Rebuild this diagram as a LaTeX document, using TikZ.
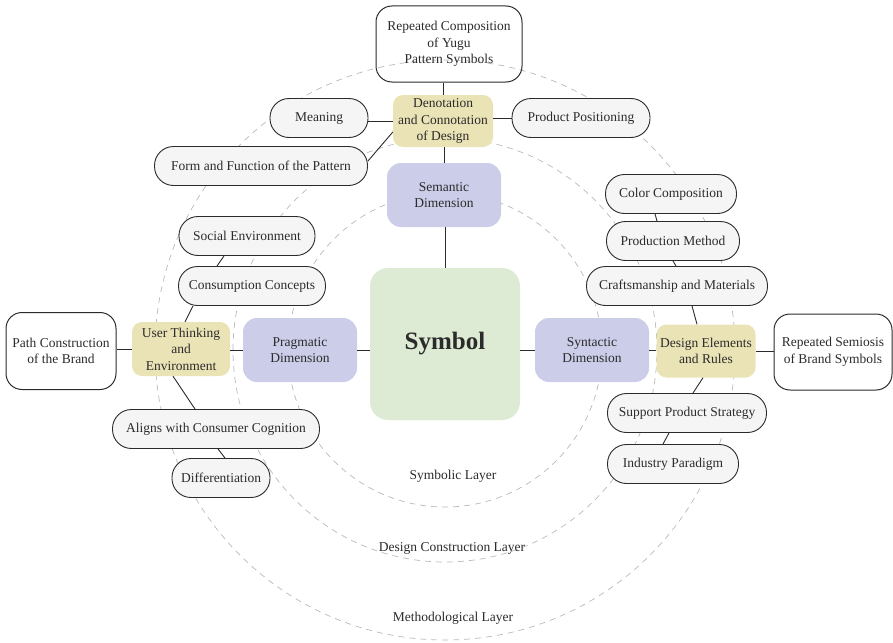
\documentclass[tikz,border=0pt]{standalone}
\usepackage{fontspec}
\setmainfont{Liberation Serif}
\definecolor{leaf}{HTML}{DDEBD4}
\definecolor{lav}{HTML}{CBCDE9}
\definecolor{sand}{HTML}{EAE3B6}
\definecolor{pillfill}{HTML}{F5F5F5}
\definecolor{ink}{HTML}{2B2B2B}
\begin{document}
\begin{tikzpicture}[x=1pt,y=-1pt,
  font=\fontsize{13.5}{16.5}\selectfont, text=ink,
  pill/.style={draw=ink, line width=0.9pt, fill=pillfill, rounded corners=19pt,
    minimum height=39pt, inner sep=0pt},
  whitebox/.style={draw=ink, line width=1pt, rounded corners=16pt, align=center, inner sep=0pt},
  dimbox/.style={fill=lav, rounded corners=14pt, minimum width=114pt, minimum height=64pt,
    align=center, inner sep=0pt},
  keybox/.style={fill=sand, rounded corners=10pt, minimum width=99pt, minimum height=53pt,
    align=center, inner sep=0pt},
  link/.style={draw=ink, line width=0.9pt},
  layer/.style={draw=gray!55, dash pattern=on 6pt off 5pt, line width=0.7pt},
  layertext/.style={text=ink}]
\useasboundingbox (0,0) rectangle (893,642);

% concentric layers
\draw[layer] (445,350) circle[radius=157pt];
\draw[layer] (445,350) circle[radius=212pt];
\draw[layer] (445,350) circle[radius=290pt];
\node[layertext] (lsym) at (453,476) {Symbolic Layer};
\node[layertext] (ldes) at (452,548) {Design Construction Layer};
\node[layertext] (lmet) at (453,618) {Methodological Layer};

% core
\node[fill=leaf, rounded corners=18pt, minimum width=150pt, minimum height=152pt, inner sep=0pt,
  font=\fontsize{25}{28}\selectfont\bfseries] (sym) at (445,344) {Symbol};

% dimensions
\node[dimbox] (sem) at (444,195) {Semantic\\Dimension};
\node[dimbox] (pra) at (300,350) {Pragmatic\\Dimension};
\node[dimbox] (syn) at (592,350) {Syntactic\\Dimension};

% key concepts
\node[keybox, minimum width=100pt, minimum height=52pt] (den) at (443,121) {Denotation\\and Connotation\\of Design};
\node[keybox, minimum width=98pt, minimum height=54pt] (usr) at (181,349) {User Thinking\\and\\Environment};
\node[keybox] (del) at (706,351) {Design Elements\\and Rules};

% outcomes
\node[whitebox, minimum width=146pt, minimum height=76pt] (rcp) at (449,44) {Repeated Composition\\of Yugu\\Pattern Symbols};
\node[whitebox, minimum width=110pt, minimum height=77pt] (pcb) at (61,351) {Path Construction\\of the Brand};
\node[whitebox, minimum width=118pt, minimum height=76pt] (rsb) at (833,352) {Repeated Semiosis\\of Brand Symbols};

% semantic branch
\node[pill, minimum width=98pt] (mea) at (319,118) {Meaning};
\node[pill, minimum width=213pt] (frm) at (261,166) {Form and Function of the Pattern};
\node[pill, minimum width=138pt] (ppo) at (581,118) {Product Positioning};

% pragmatic branch
\node[pill, minimum width=136pt] (soc) at (247,236) {Social Environment};
\node[pill, minimum width=147pt] (con) at (252,286) {Consumption Concepts};
\node[pill, minimum width=207pt] (ali) at (216,429) {Aligns with Consumer Cognition};
\node[pill, minimum width=98pt] (dif) at (221,478) {Differentiation};

% syntactic branch
\node[pill, minimum width=131pt] (col) at (671,194) {Color Composition};
\node[pill, minimum width=133pt] (pro) at (673,241) {Production Method};
\node[pill, minimum width=181pt] (cra) at (677,286) {Craftsmanship and Materials};
\node[pill, minimum width=159pt] (sup) at (687,413) {Support Product Strategy};
\node[pill, minimum width=131pt] (ind) at (673,464) {Industry Paradigm};

% connectors: semantic
\draw[link] (sym.north) -- (sym.north |- sem.south);
\draw[link] (sem.north) -- (sem.north |- den.south);
\draw[link] (den.north) -- (den.north |- rcp.south);
\draw[link] (den.west) -- (den.west -| mea.east);
\draw[link] ([yshift=-11pt]den.west) -- ([yshift=5pt]frm.east);
\draw[link] ([yshift=3pt]den.east) -- (ppo.west);

% connectors: pragmatic
\draw[link] (sym.west |- pra.east) -- (pra.east);
\draw[link] (pra.west) -- (pra.west -| usr.east);
\draw[link] (usr.west) -- (usr.west -| pcb.east);
\draw[link] ([xshift=4pt]usr.north) -- ([xshift=-59pt]con.south);
\draw[link] ([xshift=-35pt]con.north) -- ([xshift=-23pt]soc.south);
\draw[link] ([xshift=-8pt]usr.south) -- ([xshift=-21pt]ali.north);
\draw[link] ([xshift=2pt]ali.south) -- ([xshift=4pt]dif.north);

% connectors: syntactic
\draw[link] (sym.east |- syn.west) -- (syn.west);
\draw[link] (syn.east) -- (syn.east -| del.west);
\draw[link] (del.east) -- (del.east -| rsb.west);
\draw[link] ([xshift=-9pt]del.north) -- ([xshift=15pt]cra.south);
\draw[link] ([xshift=-1pt]cra.north) -- (pro.south);
\draw[link] ([xshift=-16pt]pro.north) -- ([xshift=-16pt]col.south);
\draw[link] ([xshift=-3pt]del.south) -- ([xshift=6pt]sup.north);
\draw[link] ([xshift=-18pt]sup.south) -- ([xshift=-10pt]ind.north);
\end{tikzpicture}
\end{document}
